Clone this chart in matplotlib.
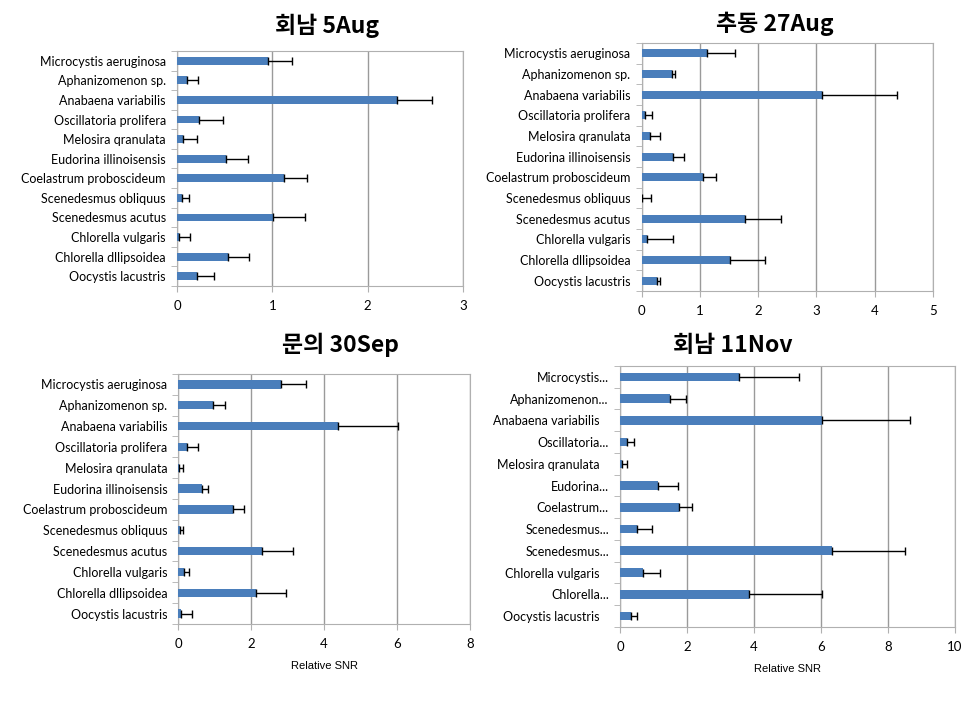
import numpy as np
import matplotlib
matplotlib.use("Agg")
import matplotlib.pyplot as plt
from matplotlib.ticker import MultipleLocator
from matplotlib.transforms import ScaledTranslation

species = ["Microcystis aeruginosa", "Aphanizomenon sp.", "Anabaena variabilis",
           "Oscillatoria prolifera", "Melosira qranulata", "Eudorina illinoisensis",
           "Coelastrum proboscideum", "Scenedesmus obliquus", "Scenedesmus acutus",
           "Chlorella vulgaris", "Chlorella dllipsoidea", "Oocystis lacustris"]
# labels as they got cut in the last panel
species_short = ["Microcystis...", "Aphanizomenon...", "Anabaena variabilis",
                 "Oscillatoria...", "Melosira qranulata", "Eudorina...",
                 "Coelastrum...", "Scenedesmus...", "Scenedesmus...",
                 "Chlorella vulgaris", "Chlorella...", "Oocystis lacustris"]

titles = ["회남 5Aug", "추동 27Aug", "문의 30Sep", "회남 11Nov"]

aug5 = [0.95, 0.11, 2.31, 0.23, 0.06, 0.51, 1.12, 0.05, 1.01, 0.02, 0.53, 0.21]
aug5_err = [0.26, 0.11, 0.37, 0.25, 0.15, 0.23, 0.24, 0.08, 0.33, 0.12, 0.23, 0.18]

aug27 = [1.13, 0.52, 3.10, 0.06, 0.14, 0.53, 1.05, 0.01, 1.78, 0.09, 1.51, 0.26]
aug27_err = [0.47, 0.06, 1.29, 0.12, 0.17, 0.19, 0.22, 0.15, 0.61, 0.45, 0.60, 0.05]

sep30 = [2.81, 0.94, 4.37, 0.23, 0.02, 0.64, 1.49, 0.05, 2.30, 0.17, 2.14, 0.08]
sep30_err = [0.69, 0.33, 1.65, 0.31, 0.11, 0.18, 0.32, 0.07, 0.84, 0.13, 0.81, 0.29]

nov11 = [3.55, 1.50, 6.03, 0.22, 0.07, 1.12, 1.77, 0.52, 6.34, 0.68, 3.85, 0.32]
nov11_err = [1.80, 0.47, 2.63, 0.20, 0.13, 0.62, 0.38, 0.45, 2.16, 0.51, 2.19, 0.20]

xmax = [3, 5, 8, 10]
xstep = [1, 1, 2, 2]

# axes boxes in figure fractions (left, bottom, width, height)
boxes = [[0.1808, 0.5966, 0.2921, 0.3315],
         [0.6555, 0.5896, 0.2972, 0.3498],
         [0.1821, 0.1199, 0.2980, 0.3526],
         [0.6333, 0.1157, 0.3422, 0.3681]]
title_xy = [(0.334, 0.964), (0.791, 0.967), (0.348, 0.513), (0.749, 0.512)]

data = [(aug5, aug5_err), (aug27, aug27_err), (sep30, sep30_err), (nov11, nov11_err)]

fig = plt.figure(figsize=(9.79, 7.09), dpi=100)
grid_c = "#9a9a9a"
bar_c = "#4a7ebb"

for i in range(4):
    vals, err = data[i]
    ax = fig.add_axes(boxes[i])
    y = np.arange(len(species))
    ax.barh(y, vals, height=0.4, color=bar_c, zorder=3)
    lo = np.zeros(len(vals))
    ax.errorbar(vals, y, xerr=[lo, err], fmt="none", ecolor="black",
                elinewidth=1, capsize=3, capthick=1, zorder=4)
    ax.set_ylim(len(species) - 0.5, -0.5)
    ax.set_xlim(0, xmax[i])
    ax.xaxis.set_major_locator(MultipleLocator(xstep[i]))
    ax.grid(axis="x", color=grid_c, linewidth=1, zorder=0)
    for s in ax.spines.values():
        s.set_color("#b0b0b0")
    ax.set_yticks(y)
    labels = species_short if i == 3 else species
    ax.set_yticklabels(labels, family="Lato", fontsize=9)
    ax.tick_params(axis="y", length=0, pad=8)
    ax.set_yticks(np.arange(-0.5, len(species), 1), minor=True)
    ax.tick_params(axis="y", which="minor", length=4, color="#b0b0b0")
    ax.tick_params(axis="x", length=4, color="#b0b0b0", labelsize=9.5, pad=6)
    for t in ax.get_xticklabels():
        t.set_family("Lato")
    if i == 3:
        # full names sit a little further left than the cut ones
        shift = ScaledTranslation(-0.09, 0, fig.dpi_scale_trans)
        for t in ax.get_yticklabels():
            if not t.get_text().endswith("..."):
                t.set_transform(t.get_transform() + shift)
    if i >= 2:
        ax.set_xlabel("Relative SNR", family="Liberation Sans", fontsize=8, labelpad=8)
    fig.text(title_xy[i][0], title_xy[i][1], titles[i], ha="center", va="center",
             fontsize=16.5, fontweight="bold", family=["Noto Sans CJK KR", "DejaVu Sans"])

fig.savefig("out.png", dpi=100)
